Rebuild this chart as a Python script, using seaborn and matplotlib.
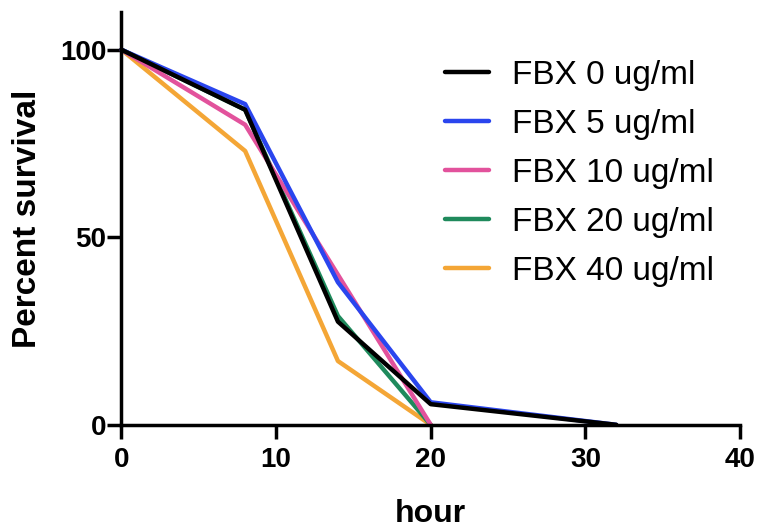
import matplotlib
matplotlib.use("Agg")
import matplotlib.pyplot as plt
import pandas as pd
import seaborn as sns

# survival curves
hours_short = [0, 8, 14, 20]
hours_long = [0, 8, 14, 20, 32]

fbx_0 = [100, 84, 27.5, 5.5, 0]
fbx_5 = [100, 85.5, 38, 6, 0]
fbx_10 = [100, 80, 40, 0]
fbx_20 = [100, 84, 29, 0]
fbx_40 = [100, 73, 17, 0]

labels = ["FBX 0 ug/ml", "FBX 5 ug/ml", "FBX 10 ug/ml", "FBX 20 ug/ml", "FBX 40 ug/ml"]
colors = ["#000000", "#2a45ee", "#e2529c", "#1f8a5c", "#f4a636"]

series = [
    (labels[0], hours_long, fbx_0),
    (labels[1], hours_long, fbx_5),
    (labels[2], hours_short, fbx_10),
    (labels[3], hours_short, fbx_20),
    (labels[4], hours_short, fbx_40),
]

rows = []
for name, xs, ys in series:
    for x, y in zip(xs, ys):
        rows.append({"hour": x, "survival": y, "group": name})
df = pd.DataFrame(rows)

sns.set_style("white")
plt.rcParams["font.family"] = ["Liberation Sans", "DejaVu Sans"]
plt.rcParams["text.color"] = "black"
plt.rcParams["axes.labelcolor"] = "black"

fig = plt.figure(figsize=(7.59, 5.31), dpi=100)
ax = fig.add_axes([0.160, 0.2, 0.815, 0.777])

# draw back to front so black sits on top like the original
draw_order = [labels[4], labels[3], labels[2], labels[1], labels[0]]
pal = dict(zip(labels, colors))
for name in draw_order:
    sub = df[df["group"] == name]
    sns.lineplot(data=sub, x="hour", y="survival", color=pal[name], linewidth=3.2,
                 ax=ax, legend=False)

ax.set_xlim(0, 40)
ax.set_ylim(0, 110)
ax.set_xticks([0, 10, 20, 30, 40])
ax.set_yticks([0, 50, 100])
for s in ["top", "right"]:
    ax.spines[s].set_visible(False)
for s in ["left", "bottom"]:
    ax.spines[s].set_linewidth(2.5)
    ax.spines[s].set_color("black")
ax.tick_params(axis="both", direction="out", length=10, width=2.5, labelsize=20,
               color="black", labelcolor="black", bottom=True, left=True)
ax.tick_params(axis="x", pad=6)
ax.tick_params(axis="y", pad=1)
for t in ax.get_xticklabels() + ax.get_yticklabels():
    t.set_fontweight("bold")
for ln in ax.lines:
    ln.set_clip_on(False)

ax.set_xlabel("hour", fontsize=23, fontweight="bold", labelpad=19)
ax.set_ylabel("Percent survival", fontsize=24, fontweight="bold", labelpad=12)

handles = [plt.Line2D([], [], color=c, linewidth=3.2) for c in colors]
ax.legend(handles, labels, loc="upper left", bbox_to_anchor=(445 / 759, 1 - 60 / 531),
          bbox_transform=fig.transFigure, borderpad=0, borderaxespad=0,
          frameon=False, fontsize=24, handlelength=1.32, labelspacing=0.54,
          handletextpad=0.7)

fig.savefig("out.png", dpi=100)
